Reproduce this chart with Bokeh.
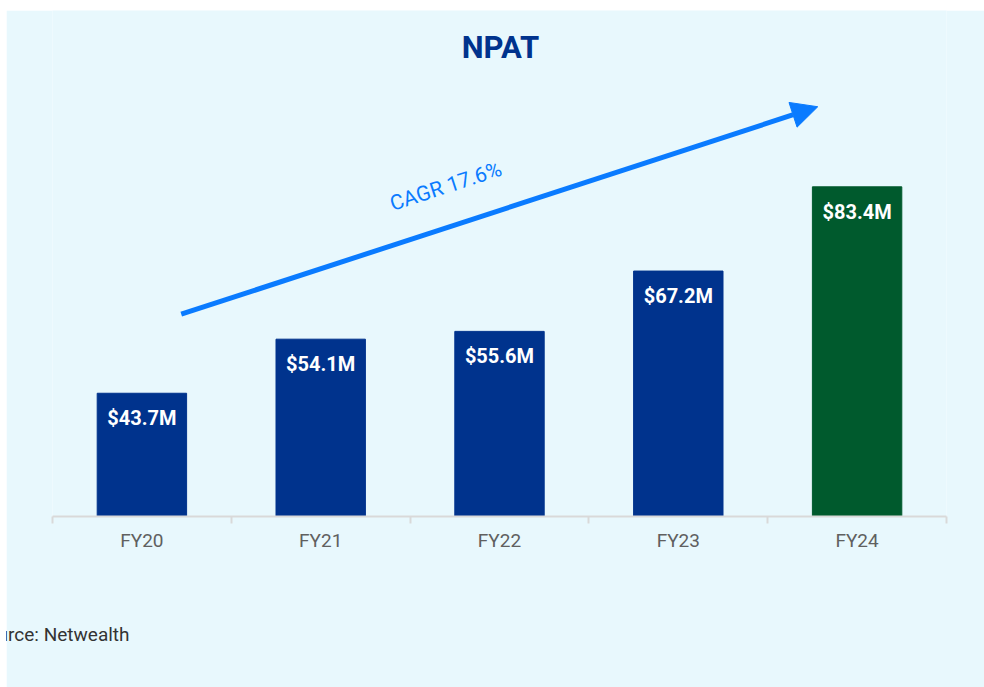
import math
from bokeh.plotting import figure
from bokeh.models import ColumnDataSource, FixedTicker, Label, Arrow, NormalHead, Range1d
from bokeh.core.properties import value
from bokeh.embed import file_html
from bokeh.resources import INLINE

# ---- data ----
categories = ["FY20", "FY21", "FY22", "FY23", "FY24"]
npat = [43.7, 54.1, 55.6, 67.2, 83.4]
bar_labels = ["$43.7M", "$54.1M", "$55.6M", "$67.2M", "$83.4M"]
bar_colors = ["#00338d", "#00338d", "#00338d", "#00338d", "#005a2d"]
title_text = "NPAT"
cagr_text = "CAGR 17.6%"
source_text = "Source: Netwealth"
# CAGR arrow (data coords: x in category slots, y in $M)
arrow_start = (0.72, 58.9)
arrow_end = (4.28, 98.8)
y_start = 20

BG = "#e8f8fd"
BLUE = "#00338d"
ARROW_BLUE = "#0a7bff"

W, H = 978, 677
ML, MR, MB = 46, 38, 171
frame_w = W - ML - MR
frame_h = H - MB
px_y = 416 / 80.0          # pixels per $M
y_end = y_start + frame_h / px_y

x_pos = [i + 0.5 for i in range(len(categories))]
src = ColumnDataSource(dict(x=x_pos, top=npat, label=bar_labels, color=bar_colors))

p = figure(width=W, height=H, output_backend="svg", toolbar_location=None,
           x_range=Range1d(0, len(categories)), y_range=Range1d(y_start, y_end),
           min_border_left=ML, min_border_right=MR, min_border_top=0, min_border_bottom=MB)
p.title = None
p.margin = (10, 0, 0, 6)
p.background_fill_color = BG
p.border_fill_color = BG
p.outline_line_color = None
p.grid.visible = False
p.yaxis.visible = False

p.vbar(x="x", top="top", bottom=y_start, width=0.5, color="color", source=src)
p.text(x="x", y="top", text="label", source=src, text_color="white",
       text_font=value("Roboto"), text_font_style="bold", text_font_size="20px",
       text_align="center", text_baseline="middle", y_offset=25)

ax = p.xaxis[0]
ax.ticker = FixedTicker(ticks=x_pos, minor_ticks=list(range(len(categories) + 1)))
ax.major_label_overrides = {x: c for x, c in zip(x_pos, categories)}
ax.major_tick_line_color = None
ax.minor_tick_out = 7
ax.minor_tick_in = 0
ax.minor_tick_line_color = "#d9d9d9"
ax.minor_tick_line_width = 2
ax.axis_line_color = "#d9d9d9"
ax.axis_line_width = 2
ax.major_label_standoff = 5
ax.major_label_text_font = "Roboto"
ax.major_label_text_font_size = "19px"
ax.major_label_text_color = "#606060"
# source note as the axis label, aligned to the start of the axis
ax.axis_label = source_text
ax.axis_label_align = "start"
ax.axis_label_text_align = "left"
ax.axis_label_standoff = 68
ax.axis_label_text_font = "Roboto"
ax.axis_label_text_font_style = "normal"
ax.axis_label_text_font_size = "19px"
ax.axis_label_text_color = "#333333"

# arrow
p.add_layout(Arrow(end=NormalHead(size=26, fill_color=ARROW_BLUE, line_color=ARROW_BLUE, line_width=1),
                   x_start=arrow_start[0], y_start=arrow_start[1],
                   x_end=arrow_end[0], y_end=arrow_end[1],
                   line_color=ARROW_BLUE, line_width=5))

# angle of CAGR text following the arrow in screen space
px_x = frame_w / len(categories)
ang = math.atan2((arrow_end[1] - arrow_start[1]) * px_y, (arrow_end[0] - arrow_start[0]) * px_x)
p.add_layout(Label(x=2.2, y=83.5, text=cagr_text, angle=ang, text_align="center",
                   text_baseline="middle", text_color=ARROW_BLUE, text_font="Roboto",
                   text_font_size="21px"))

# chart title inside the (full-height) frame, screen units from frame bottom-left
p.add_layout(Label(x=448, y=469, x_units="screen", y_units="screen", text=title_text,
                   text_align="center", text_baseline="middle", text_color=BLUE,
                   text_font="Roboto", text_font_style="bold", text_font_size="31px"))

open("out.html", "w").write(file_html(p, INLINE))
